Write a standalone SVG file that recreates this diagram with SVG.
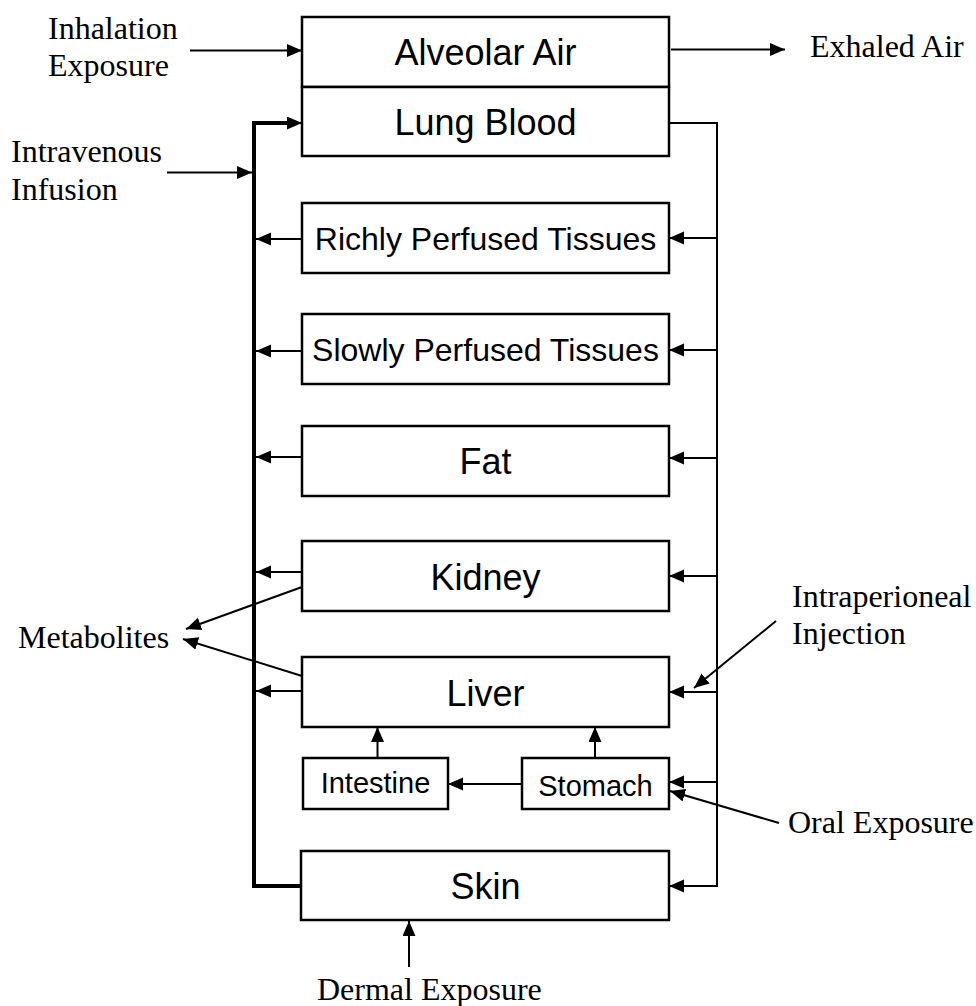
<svg xmlns="http://www.w3.org/2000/svg" width="976" height="1006" viewBox="0 0 976 1006">
<style>
.box{fill:#fff;stroke:#000;stroke-width:2.5}
.lbl{font-family:"Liberation Sans",Arial,sans-serif;fill:#000;text-anchor:middle}
.big{font-size:36px}
.mid{font-size:32px}
.sm{font-size:29px}
.ext{font-family:"Liberation Serif","Times New Roman",serif;font-size:32px;fill:#000}
.c{fill:none;stroke:#000;stroke-width:2}
.thick{fill:none;stroke:#000;stroke-width:4}
</style>
<defs>
<marker id="ah" markerUnits="userSpaceOnUse" markerWidth="16" markerHeight="14" refX="15" refY="6.5" orient="auto">
<path d="M0,0 L15,6.5 L0,13 z" fill="#000"/>
</marker>
</defs>
<rect width="976" height="1006" fill="#fff"/>
<g id="connectors">
<line class="c" x1="190" y1="50.5" x2="302" y2="50.5" marker-end="url(#ah)"/>
<line class="c" x1="671" y1="49.5" x2="785" y2="49.5" marker-end="url(#ah)"/>
<line class="c" x1="167" y1="172.5" x2="252" y2="172.5" marker-end="url(#ah)"/>
<path class="thick" d="M301,886 H254 V123 H288"/>
<line class="c" x1="286" y1="123" x2="302" y2="123" marker-end="url(#ah)"/>
<path class="c" d="M669,123 H717 V886 H669" marker-end="url(#ah)"/>
<line class="c" x1="717" y1="238" x2="669" y2="238" marker-end="url(#ah)"/>
<line class="c" x1="717" y1="350" x2="669" y2="350" marker-end="url(#ah)"/>
<line class="c" x1="717" y1="458" x2="669" y2="458" marker-end="url(#ah)"/>
<line class="c" x1="717" y1="576" x2="669" y2="576" marker-end="url(#ah)"/>
<line class="c" x1="717" y1="692" x2="669" y2="692" marker-end="url(#ah)"/>
<line class="c" x1="717" y1="782" x2="669" y2="782" marker-end="url(#ah)"/>
<line class="c" x1="302" y1="239" x2="256" y2="239" marker-end="url(#ah)"/>
<line class="c" x1="302" y1="351" x2="256" y2="351" marker-end="url(#ah)"/>
<line class="c" x1="302" y1="457" x2="256" y2="457" marker-end="url(#ah)"/>
<line class="c" x1="302" y1="572" x2="256" y2="572" marker-end="url(#ah)"/>
<line class="c" x1="302" y1="691" x2="256" y2="691" marker-end="url(#ah)"/>
<line class="c" x1="302" y1="587" x2="186" y2="629" marker-end="url(#ah)"/>
<line class="c" x1="302" y1="676" x2="183" y2="639" marker-end="url(#ah)"/>
<line class="c" x1="776" y1="621" x2="694" y2="688" marker-end="url(#ah)"/>
<line class="c" x1="779" y1="823" x2="670" y2="791" marker-end="url(#ah)"/>
<line class="c" x1="377.5" y1="758" x2="377.5" y2="727" marker-end="url(#ah)"/>
<line class="c" x1="595" y1="758" x2="595" y2="727" marker-end="url(#ah)"/>
<line class="c" x1="522" y1="784" x2="448" y2="784" marker-end="url(#ah)"/>
<line class="c" x1="409" y1="967" x2="409" y2="921" marker-end="url(#ah)"/>
</g>
<g id="alveolar-air"><rect class="box" x="302" y="17" width="367" height="70"/><text class="lbl big" x="485.5" y="65">Alveolar Air</text></g>
<g id="lung-blood"><rect class="box" x="302" y="87" width="367" height="69"/><text class="lbl big" x="485.5" y="135">Lung Blood</text></g>
<g id="richly-perfused"><rect class="box" x="302" y="203" width="367" height="70"/><text class="lbl mid" x="485.5" y="250">Richly Perfused Tissues</text></g>
<g id="slowly-perfused"><rect class="box" x="302" y="314" width="367" height="70"/><text class="lbl mid" x="485.5" y="361">Slowly Perfused Tissues</text></g>
<g id="fat"><rect class="box" x="302" y="426" width="367" height="70"/><text class="lbl big" x="485.5" y="474">Fat</text></g>
<g id="kidney"><rect class="box" x="302" y="541" width="367" height="70"/><text class="lbl big" x="485.5" y="590">Kidney</text></g>
<g id="liver"><rect class="box" x="302" y="657" width="367" height="70"/><text class="lbl big" x="485.5" y="706">Liver</text></g>
<g id="intestine"><rect class="box" x="303" y="758" width="145" height="51"/><text class="lbl sm" x="375.5" y="793">Intestine</text></g>
<g id="stomach"><rect class="box" x="522" y="758" width="147" height="51"/><text class="lbl sm" x="595.5" y="796">Stomach</text></g>
<g id="skin"><rect class="box" x="301" y="851" width="368" height="69"/><text class="lbl big" x="485.5" y="899">Skin</text></g>
<g id="labels">
<text class="ext" x="48" y="39">Inhalation</text>
<text class="ext" x="48" y="76">Exposure</text>
<text class="ext" x="11" y="162">Intravenous</text>
<text class="ext" x="11" y="200">Infusion</text>
<text class="ext" x="810" y="57">Exhaled Air</text>
<text class="ext" x="18" y="648">Metabolites</text>
<text class="ext" x="792" y="607">Intraperioneal</text>
<text class="ext" x="792" y="644">Injection</text>
<text class="ext" x="788" y="833">Oral Exposure</text>
<text class="ext" x="317" y="1000">Dermal Exposure</text>
</g>
</svg>
